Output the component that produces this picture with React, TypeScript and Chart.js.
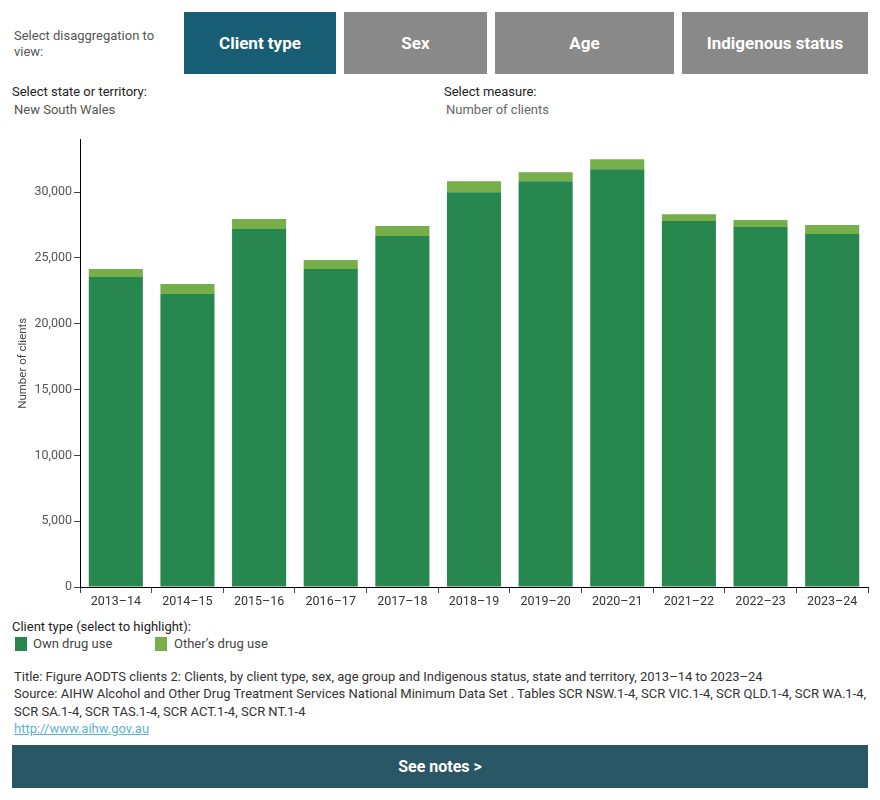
import React, { useEffect, useRef } from "react";
import { Chart, registerables } from "chart.js";

Chart.register(...registerables);

const categories = ["2013–14", "2014–15", "2015–16", "2016–17", "2017–18", "2018–19", "2019–20", "2020–21", "2021–22", "2022–23", "2023–24"];
const ownDrugUse = [23560, 22270, 27200, 24170, 26670, 30000, 30830, 31740, 27800, 27350, 26820];
const othersDrugUse = [610, 760, 760, 680, 760, 830, 680, 760, 530, 530, 680];
const seriesNames = ["Own drug use", "Other’s drug use"];
const seriesColors = ["#27874F", "#76AE4A"];
const yTickValues = [0, 5000, 10000, 15000, 20000, 25000, 30000];
const yAxisMax = 34000;

const FONT = "Roboto, 'Noto Sans', sans-serif";

export default function App() {
  const canvasRef = useRef<HTMLCanvasElement | null>(null);

  useEffect(() => {
    document.body.style.margin = "0";
    const ctx = canvasRef.current;
    if (!ctx) return;
    const chart = new Chart(ctx, {
      type: "bar",
      data: {
        labels: categories,
        datasets: [
          { label: seriesNames[0], data: ownDrugUse, backgroundColor: seriesColors[0], stack: "s" },
          { label: seriesNames[1], data: othersDrugUse, backgroundColor: seriesColors[1], stack: "s" },
        ],
      },
      options: {
        animation: false,
        responsive: false,
        maintainAspectRatio: false,
        events: [],
        layout: { padding: { top: 7, right: 12, bottom: 0, left: 0 } },
        datasets: { bar: { categoryPercentage: 1, barPercentage: 0.755 } },
        plugins: { legend: { display: false }, tooltip: { enabled: false } },
        scales: {
          x: {
            stacked: true,
            grid: { display: true, drawOnChartArea: false, offset: true, tickLength: 6, color: "#444", lineWidth: 1 },
            border: { display: true, color: "#000", width: 1 },
            ticks: { color: "#333", font: { family: FONT, size: 12.5 }, padding: 1, maxRotation: 0, autoSkip: false },
            afterFit: (s: any) => { s.height = 23; },
          },
          y: {
            stacked: true,
            min: 0,
            max: yAxisMax,
            grid: { display: true, drawOnChartArea: false, tickLength: 6, color: "#444" },
            border: { display: true, color: "#000", width: 1 },
            afterBuildTicks: (s: any) => { s.ticks = yTickValues.map((v) => ({ value: v })); },
            ticks: {
              color: "#555",
              font: { family: FONT, size: 12.5 },
              padding: 2,
              callback: (v: any) => Number(v).toLocaleString("en-US"),
            },
            title: { display: true, text: "Number of clients", color: "#444", font: { family: FONT, size: 11.5 }, padding: { top: 16, bottom: 0 } },
            afterFit: (s: any) => { s.width = 80; },
          },
        },
      },
    });
    return () => chart.destroy();
  }, []);

  const btn = (left: number, width: number, text: string, active: boolean) => (
    <div
      style={{
        position: "absolute", left, top: 12, width, height: 62,
        background: active ? "#175E74" : "#898989", color: "#fff",
        display: "flex", alignItems: "center", justifyContent: "center",
        fontSize: 17, fontWeight: "bold",
      }}
    >
      {text}
    </div>
  );

  const line: React.CSSProperties = { whiteSpace: "nowrap", height: 17.3 };

  return (
    <div style={{ position: "relative", width: 880, height: 800, fontFamily: FONT, color: "#333", background: "#fff" }}>
      <div style={{ position: "absolute", left: 14, top: 28, fontSize: 13, lineHeight: "16px", color: "#555", width: 150 }}>
        Select disaggregation to<br />view:
      </div>
      {btn(184, 152, "Client type", true)}
      {btn(344, 143, "Sex", false)}
      {btn(495, 179, "Age", false)}
      {btn(682, 186, "Indigenous status", false)}

      <div style={{ position: "absolute", left: 12, top: 84, fontSize: 13, color: "#222" }}>Select state or territory:</div>
      <div style={{ position: "absolute", left: 14, top: 102, fontSize: 13, color: "#555" }}>New South Wales</div>
      <div style={{ position: "absolute", left: 444, top: 84, fontSize: 13, color: "#222" }}>Select measure:</div>
      <div style={{ position: "absolute", left: 446, top: 102, fontSize: 13, color: "#666" }}>Number of clients</div>

      <canvas ref={canvasRef} width={880} height={480} style={{ position: "absolute", left: 0, top: 130, width: 880, height: 480 }} />

      <div style={{ position: "absolute", left: 12, top: 619, fontSize: 13, color: "#222" }}>Client type (select to highlight):</div>
      <div style={{ position: "absolute", left: 15, top: 637, width: 12, height: 14, background: seriesColors[0] }} />
      <div style={{ position: "absolute", left: 33, top: 636, fontSize: 13, color: "#444" }}>{seriesNames[0]}</div>
      <div style={{ position: "absolute", left: 155, top: 637, width: 12, height: 14, background: seriesColors[1] }} />
      <div style={{ position: "absolute", left: 174, top: 636, fontSize: 13, color: "#444" }}>{seriesNames[1]}</div>

      <div style={{ position: "absolute", left: 14, top: 668, fontSize: 13, lineHeight: "17.3px", color: "#333" }}>
        <div style={line}>Title: Figure AODTS clients 2: Clients, by client type, sex, age group and Indigenous status, state and territory, 2013–14 to 2023–24</div>
        <div style={line}>Source: AIHW Alcohol and Other Drug Treatment Services National Minimum Data Set . Tables SCR NSW.1-4, SCR VIC.1-4, SCR QLD.1-4, SCR WA.1-4,</div>
        <div style={line}>SCR SA.1-4, SCR TAS.1-4, SCR ACT.1-4, SCR NT.1-4</div>
        <div style={{ ...line, color: "#5BB3D4", textDecoration: "underline" }}>http://www.aihw.gov.au</div>
      </div>

      <div
        style={{
          position: "absolute", left: 12, top: 745, width: 856, height: 43, background: "#2A5766",
          color: "#fff", fontSize: 16, fontWeight: "bold", display: "flex", alignItems: "center", justifyContent: "center",
        }}
      >
        See notes &gt;
      </div>
    </div>
  );
}
